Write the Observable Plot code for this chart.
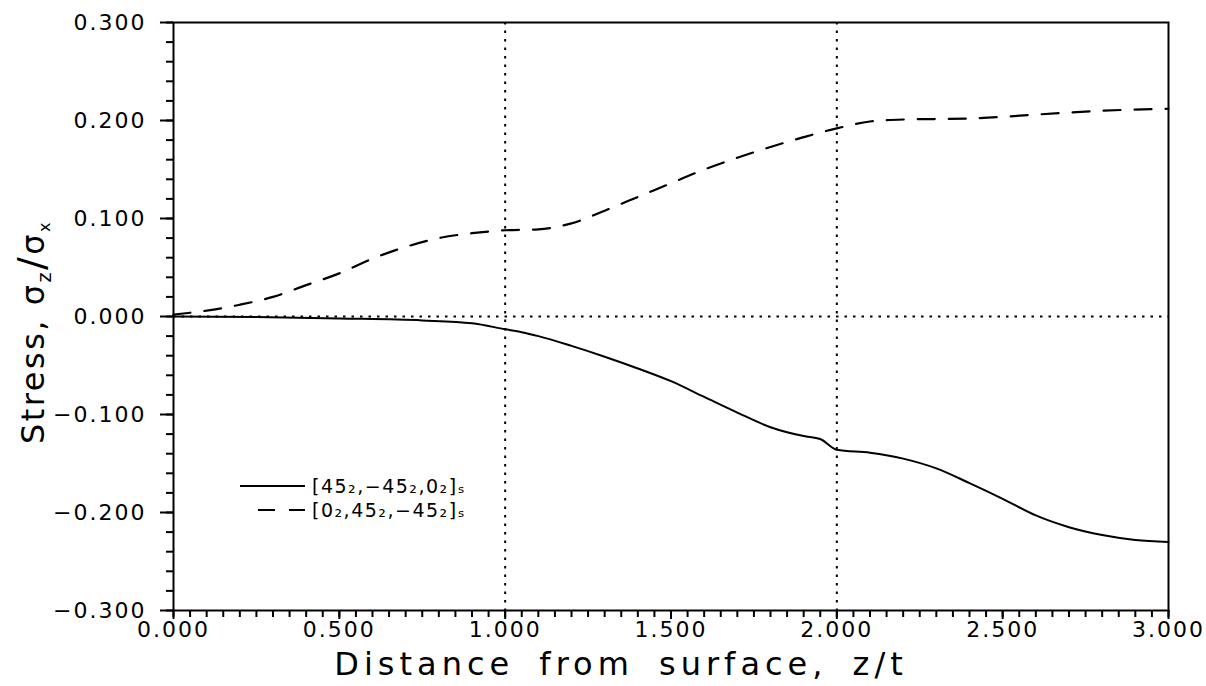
<!DOCTYPE html>
<html>
<head>
<meta charset="utf-8">
<script src="https://cdn.jsdelivr.net/npm/d3@7"></script>
<script src="https://cdn.jsdelivr.net/npm/@observablehq/plot@0.6"></script>
<style>
  html, body { margin: 0; padding: 0; background: #fff; }
  #chart { width: 1206px; height: 686px; }
</style>
</head>
<body>
<div id="chart"></div>
<script>
// ---- data ----
const xSolid = [0.0, 0.25, 0.5, 0.75, 0.9, 1.0, 1.05, 1.1, 1.2, 1.3, 1.4, 1.5, 1.6, 1.7, 1.8, 1.9, 1.95, 2.0, 2.1, 2.2, 2.3, 2.4, 2.5, 2.6, 2.7, 2.8, 2.9, 3.0];
const ySolid = [0.000, -0.0005, -0.002, -0.004, -0.007, -0.013, -0.016, -0.020, -0.030, -0.041, -0.053, -0.066, -0.082, -0.098, -0.113, -0.122, -0.125, -0.136, -0.139, -0.145, -0.155, -0.170, -0.186, -0.203, -0.215, -0.223, -0.228, -0.230];
const xDashed = [0.0, 0.1, 0.2, 0.3, 0.4, 0.5, 0.6, 0.7, 0.8, 0.9, 1.0, 1.1, 1.2, 1.3, 1.4, 1.5, 1.6, 1.7, 1.8, 1.9, 2.0, 2.1, 2.2, 2.4, 2.6, 2.8, 3.0];
const yDashed = [0.002, 0.006, 0.012, 0.020, 0.032, 0.044, 0.059, 0.071, 0.080, 0.085, 0.088, 0.089, 0.095, 0.108, 0.122, 0.136, 0.150, 0.162, 0.173, 0.183, 0.192, 0.199, 0.201, 0.202, 0.206, 0.210, 0.212];
const seriesNames = ["[45₂,−45₂,0₂]ₛ", "[0₂,45₂,−45₂]ₛ"];
const xMajorTicks = [0, 0.5, 1.0, 1.5, 2.0, 2.5, 3.0];
const xTickLabels = ["0.000", "0.500", "1.000", "1.500", "2.000", "2.500", "3.000"];
const yMajorTicks = [-0.3, -0.2, -0.1, 0, 0.1, 0.2, 0.3];
const yTickLabels = ["−0.300", "−0.200", "−0.100", "0.000", "0.100", "0.200", "0.300"];
const xMinorTicks = d3.range(0, 61).map(i => i * 0.05);
const yMinorTicks = d3.range(0, 31).map(i => -0.3 + i * 0.02);
const gridX = [1.0, 2.0];
const gridY = [0];

const solid = xSolid.map((x, i) => ({x, y: ySolid[i]}));
const dashed = xDashed.map((x, i) => ({x, y: yDashed[i]}));

const FONT = "DejaVu Sans";
const xFmt = d => xTickLabels[xMajorTicks.findIndex(v => Math.abs(v - d) < 1e-9)];
const yFmt = d => yTickLabels[yMajorTicks.findIndex(v => Math.abs(v - d) < 1e-9)];

const plot = Plot.plot({
  width: 1206,
  height: 686,
  marginLeft: 173,
  marginRight: 38,
  marginTop: 22,
  marginBottom: 76,
  style: {fontFamily: FONT, background: "#fff", color: "#000"},
  x: {domain: [0, 3]},
  y: {domain: [-0.3, 0.3]},
  marks: [
    Plot.ruleX(gridX, {stroke: "#000", strokeWidth: 2, strokeDasharray: "2.5,6"}),
    Plot.ruleY(gridY, {stroke: "#000", strokeWidth: 2, strokeDasharray: "2.5,6"}),
    Plot.axisY({ticks: yMinorTicks, tickSize: 7, tickFormat: () => "", label: null, strokeWidth: 2}),
    Plot.axisY({ticks: yMajorTicks, tickSize: 13, tickPadding: 14, tickFormat: yFmt, label: null, strokeWidth: 2, fontSize: 22}),
    Plot.axisX({ticks: xMinorTicks, tickSize: 7, tickFormat: () => "", label: null, strokeWidth: 2}),
    Plot.axisX({ticks: xMajorTicks, tickSize: 9, tickPadding: 2, tickFormat: xFmt, label: null, strokeWidth: 2, fontSize: 22}),
    Plot.frame({stroke: "#000", strokeWidth: 2}),
    Plot.line(solid, {x: "x", y: "y", stroke: "#000", strokeWidth: 2, curve: "monotone-x"}),
    Plot.line(dashed, {x: "x", y: "y", stroke: "#000", strokeWidth: 2.2, strokeDasharray: "17,14", curve: "monotone-x"})
  ]
});
document.getElementById("chart").appendChild(plot);

const svg = d3.select(plot);
svg.selectAll("text").style("letter-spacing", "2px");

// y axis label with subscripts
const yl = svg.append("text")
  .attr("transform", "translate(44,332) rotate(-90)")
  .attr("text-anchor", "middle")
  .attr("font-family", FONT)
  .attr("font-size", 32)
  .attr("letter-spacing", "2.5px")
  .attr("fill", "#000");
yl.append("tspan").text("Stress, σ");
yl.append("tspan").attr("font-size", 19).attr("dy", 7).text("z");
yl.append("tspan").attr("dy", -7).attr("font-size", 38).text("/");
yl.append("tspan").text("σ");
yl.append("tspan").attr("font-size", 16).attr("dy", 6).text("x");

// x axis label
svg.append("text")
  .attr("x", 621).attr("y", 675)
  .attr("text-anchor", "middle")
  .attr("font-family", FONT)
  .attr("font-size", 32)
  .attr("letter-spacing", "5px")
  .attr("word-spacing", "10px")
  .attr("fill", "#000")
  .text("Distance from surface, z/t");

// legend
const lg = svg.append("g").attr("font-family", FONT).attr("fill", "#000").attr("text-anchor", "start");
const legendRows = [
  {y: 486, dash: null, x1: 240},
  {y: 510, dash: "17,14", x1: 258}
];
legendRows.forEach((r, i) => {
  const ln = lg.append("line").attr("x1", r.x1).attr("x2", 305).attr("y1", r.y).attr("y2", r.y)
    .attr("stroke", "#000").attr("stroke-width", 2);
  if (r.dash) ln.attr("stroke-dasharray", r.dash);
  lg.append("text").attr("x", 312).attr("y", r.y + 7).attr("font-size", 19)
    .attr("text-anchor", "start").attr("letter-spacing", "1.5px")
    .text(seriesNames[i]);
});
</script>
</body>
</html>
